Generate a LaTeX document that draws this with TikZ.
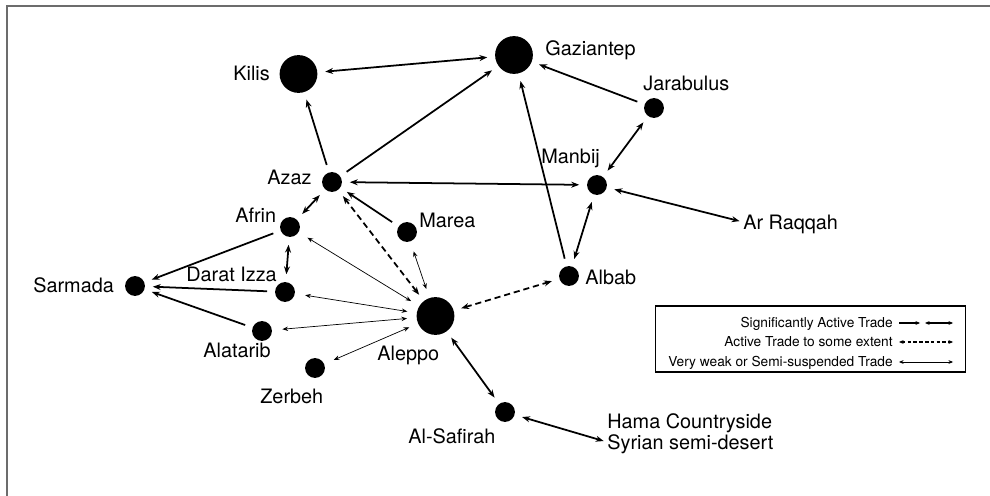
\documentclass[tikz,border=0pt]{standalone}
\usepackage{fontspec}
\setmainfont{TeX Gyre Heros}
\usepackage{tikz}
\usetikzlibrary{arrows.meta}
\newcommand{\placefont}{\fontsize{11.3}{11.8}\selectfont}
\newcommand{\keyfont}{\fontsize{7.8}{9}\selectfont}

\begin{document}
\begin{tikzpicture}[x=0.02cm, y=-0.02cm,
  town/.style={circle, fill=black, inner sep=0pt, minimum size=11.3pt, outer sep=2.5pt},
  city/.style={town, minimum size=21.5pt},
  place/.style={font=\placefont, inner sep=0pt, text height=8.1pt, text depth=0pt, anchor=west},
  key/.style={font=\keyfont, inner sep=0pt, text height=5.6pt, text depth=0pt, anchor=east},
  strong/.style={line width=1pt, shorten >=2pt, shorten <=2pt, >={Stealth[length=4.5pt,width=3.4pt]}},
  partial/.style={strong, dash pattern=on 3.5pt off 2.2pt},
  weak/.style={line width=0.4pt, shorten >=3.5pt, shorten <=3pt, >={Stealth[length=3.2pt,width=2.5pt]}},
  sample/.style={line width=0.6pt, >={Stealth[length=2.6pt,width=2.2pt]}},
  frame/.style={draw=gray!85!black, line width=1.2pt}]

\useasboundingbox (0,0) rectangle (990,496);
\draw [frame] (7,520) |- (1010,6);

%%% nodes: towns
\node [city] (kilis) at (298.5,74) {};
\node [city] (gaziantep) at (514,55) {};
\node [city] (aleppo) at (435.5,316) {};
\node [town] (jarabulus) at (654,108) {};
\node [town] (manbij) at (597,185) {};
\node [town] (azaz) at (332,182) {};
\node [town] (afrin) at (290,227) {};
\node [town] (marea) at (407,232) {};
\node [town] (darat) at (285,292) {};
\node [town] (sarmada) at (135,286) {};
\node [town] (alatarib) at (262,331) {};
\node [town] (zerbeh) at (315,368) {};
\node [town] (safirah) at (505,412) {};
\node [town] (albab) at (569,276) {};

%%% labels
\node [place] (kilis-label) at (233,73) {Kilis};
\node [place] (gaziantep-label) at (545,48) {Gaziantep};
\node [place] (jarabulus-label) at (643,83) {Jarabulus};
\node [place] (manbij-label) at (541,156) {Manbij};
\node [place] (azaz-label) at (267,177) {Azaz};
\node [place] (afrin-label) at (235,215) {Afrin};
\node [place] (marea-label) at (419,220) {Marea};
\node [place] (darat-label) at (186,274) {Darat Izza};
\node [place] (sarmada-label) at (33,285) {Sarmada};
\node [place] (alatarib-label) at (203,350) {Alatarib};
\node [place] (aleppo-label) at (377,353) {Aleppo};
\node [place] (zerbeh-label) at (260,396) {Zerbeh};
\node [place] (safirah-label) at (408,436) {Al-Safirah};
\node [place] (albab-label) at (585,277) {Albab};
\node [place] (raqqah) at (743,222) {Ar Raqqah};
\node [place, align=left] (hama) at (607,442) {Hama Countryside\\Syrian semi-desert};

%%% connections, arrows
\draw [strong, <->] (kilis) -- (gaziantep);
\draw [strong, ->] (azaz) -- (kilis);
\draw [strong, ->] (azaz) -- (gaziantep);
\draw [strong, ->] (albab) -- (gaziantep);
\draw [strong, ->] (jarabulus) -- (gaziantep);
\draw [strong, <->] (manbij) -- (jarabulus);
\draw [strong, <->] (azaz) -- (manbij);
\draw [strong, <->] (manbij) -- (raqqah.west);
\draw [strong, <->] (manbij) -- (albab);
\draw [strong, <->] (afrin) -- (azaz);
\draw [strong, ->] (marea) -- (azaz);
\draw [strong, <->] (afrin) -- (darat);
\draw [strong, ->] (afrin) -- (sarmada);
\draw [strong, ->] (darat) -- (sarmada);
\draw [strong, ->] (alatarib) -- (sarmada);
\draw [strong, <->] (aleppo) -- (safirah);
\draw [strong, <->] (safirah) -- (hama.west);

\draw [partial, <->] (aleppo) -- (azaz);
\draw [partial, <->] (aleppo) -- (albab);

\draw [weak, <->] (aleppo) -- (afrin);
\draw [weak, <->] (aleppo) -- (darat);
\draw [weak, <->] (aleppo) -- (alatarib);
\draw [weak, <->] (aleppo) -- (zerbeh);
\draw [weak, <->] (aleppo) -- (marea);

%%% legend
\node [draw, line width=0.8pt, minimum width=176.3pt, minimum height=37.4pt, inner sep=0pt] (legend) at (810.5,339) {};
\node [key] (key-strong) at (893,323) {Significantly Active Trade};
\node [key] (key-partial) at (893,342) {Active Trade to some extent};
\node [key] (key-weak) at (893,362) {Very weak or Semi-suspended Trade};
\coordinate (s1a) at (899,323); \coordinate (s1b) at (920,323);
\coordinate (s1c) at (925,323); \coordinate (s1d) at (953,323);
\coordinate (s2a) at (899,342); \coordinate (s2b) at (953,342);
\coordinate (s3a) at (899,362); \coordinate (s3b) at (953,362);
\draw [sample, ->] (s1a) -- (s1b);
\draw [sample, <->] (s1c) -- (s1d);
\draw [sample, <->, dash pattern=on 2pt off 1.3pt] (s2a) -- (s2b);
\draw [sample, <->, line width=0.35pt] (s3a) -- (s3b);

\end{tikzpicture}
\end{document}
